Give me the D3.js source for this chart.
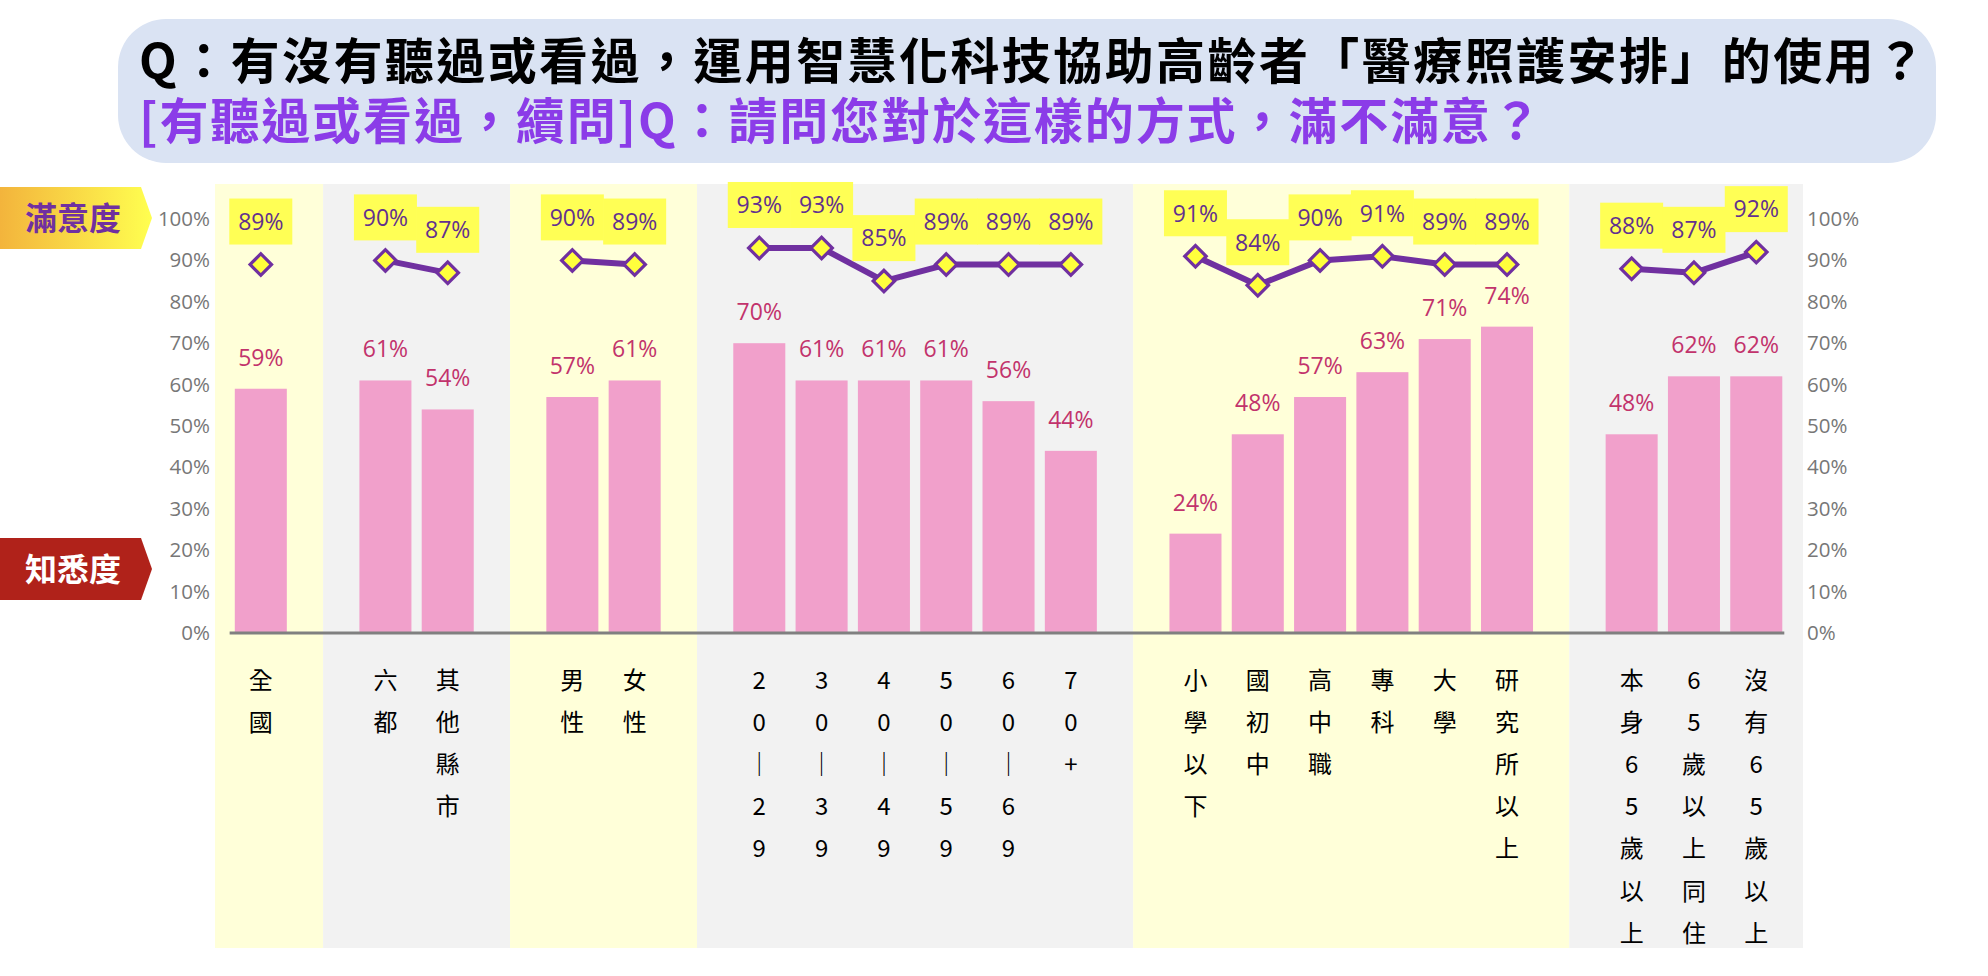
<!DOCTYPE html>
<html>
<head>
<meta charset="utf-8">
<script src="https://cdn.jsdelivr.net/npm/d3@7"></script>
<style>
body { margin: 0; background: #fff; }
svg text { font-family: "Noto Sans CJK TC", "Noto Sans", sans-serif; }
svg .num { font-family: "Open Sans", "Noto Sans", sans-serif; }
</style>
</head>
<body>
<div id="chart"></div>
<script>
// chart data
var titleLine1 = "Q：有沒有聽過或看過，運用智慧化科技協助高齡者「醫療照護安排」的使用？";
var titleLine2 = "[有聽過或看過，續問]Q：請問您對於這樣的方式，滿不滿意？";

var categories = ["全國", "六都", "其他縣市", "男性", "女性",
	"20-29", "30-39", "40-49", "50-59", "60-69", "70+",
	"小學以下", "國初中", "高中職", "專科", "大學", "研究所以上",
	"本身65歲以上", "65歲以上同住", "沒有65歲以上"];
var groupIndex = [0, 1, 1, 2, 2, 3, 3, 3, 3, 3, 3, 4, 4, 4, 4, 4, 4, 5, 5, 5];
var awareness = [59, 61, 54, 57, 61, 70, 61, 61, 61, 56, 44, 24, 48, 57, 63, 71, 74, 48, 62, 62];
var satisfaction = [89, 90, 87, 90, 89, 93, 93, 85, 89, 89, 89, 91, 84, 90, 91, 89, 89, 88, 87, 92];
var yTicks = [0, 10, 20, 30, 40, 50, 60, 70, 80, 90, 100];
var satLabel = "滿意度";
var awareLabel = "知悉度";

var W = 1988, H = 976;
var bandFills = ["#FFFFD9", "#F2F2F2"];

var svg = d3.select("#chart").append("svg")
	.attr("width", W)
	.attr("height", H);

// each group is separated by one empty slot
var slot = categories.map(function(c, i) { return i + groupIndex[i]; });
var nSlots = d3.max(slot) + 1;
var nGroups = d3.max(groupIndex) + 1;

var x = d3.scaleLinear()
	.domain([-0.735, nSlots - 1 + 0.75])
	.range([215, 1803]);
var step = x(1) - x(0);
var barW = step * 0.835;

var y = d3.scaleLinear()
	.domain([0, 100])
	.range([633, 219]);

var bandTop = 184, bandBottom = 948;

//Title bubble
svg.append("rect")
	.attr("x", 118).attr("y", 19)
	.attr("width", 1818).attr("height", 144)
	.attr("rx", 48)
	.attr("fill", "#DAE3F3");

var title = svg.append("text")
	.attr("font-size", 49).attr("font-weight", 700);
title.append("tspan")
	.attr("x", 139).attr("y", 79)
	.attr("fill", "#000")
	.attr("textLength", 1786).attr("lengthAdjust", "spacing")
	.text(titleLine1);
title.append("tspan")
	.attr("x", 139).attr("y", 139)
	.attr("fill", "#8B3CE8")
	.attr("textLength", 1402).attr("lengthAdjust", "spacing")
	.text(titleLine2);

//Group backgrounds
d3.range(nGroups).forEach(function(g)
{
	var s = slot.filter(function(d, i) { return groupIndex[i] === g; });
	var x0 = g === 0 ? x.range()[0] : x(d3.min(s) - 1);
	var x1 = g === nGroups - 1 ? x.range()[1] : x(d3.max(s) + 1);
	svg.append("rect")
		.attr("class", "band")
		.attr("x", x0).attr("y", bandTop)
		.attr("width", x1 - x0).attr("height", bandBottom - bandTop)
		.attr("fill", bandFills[g % 2]);
});

//Side labels
var defs = svg.append("defs");
var grad = defs.append("linearGradient").attr("id", "satGrad");
grad.append("stop").attr("offset", "0%").attr("stop-color", "#F3B43C");
grad.append("stop").attr("offset", "100%").attr("stop-color", "#FFFF50");

function tag(top, fill, textFill, label)
{
	var bottom = top + 62, mid = top + 31;
	svg.append("polygon")
		.attr("points", [[0, top], [141, top], [152, mid], [141, bottom], [0, bottom]].join(" "))
		.attr("fill", fill);
	svg.append("text")
		.attr("x", 73).attr("y", mid)
		.attr("dy", "0.36em")
		.attr("text-anchor", "middle")
		.attr("font-size", 32).attr("font-weight", 700)
		.attr("fill", textFill)
		.text(label);
}
tag(187, "url(#satGrad)", "#7030A0", satLabel);
tag(538, "#B0221A", "#FFFFFF", awareLabel);

//Y axes, labels only
function styleAxis(g)
{
	g.select(".domain").remove();
	g.selectAll("text")
		.attr("class", "num")
		.attr("font-size", 20.5)
		.attr("fill", "#777777");
}
svg.append("g")
	.attr("transform", "translate(210,0)")
	.call(d3.axisLeft(y).tickValues(yTicks).tickSize(0).tickPadding(0)
		.tickFormat(function(d) { return d + "%"; }))
	.call(styleAxis);
svg.append("g")
	.attr("transform", "translate(1807,0)")
	.call(d3.axisRight(y).tickValues(yTicks).tickSize(0).tickPadding(0)
		.tickFormat(function(d) { return d + "%"; }))
	.call(styleAxis);

//Bars
svg.selectAll(".bar")
	.data(awareness)
	.enter().append("rect")
	.attr("class", "bar")
	.attr("x", function(d, i) { return x(slot[i]) - barW / 2; })
	.attr("y", function(d) { return y(d); })
	.attr("width", barW)
	.attr("height", function(d) { return y(0) - y(d); })
	.attr("fill", "#F1A0CB");

svg.selectAll(".barLabel")
	.data(awareness)
	.enter().append("text")
	.attr("class", "barLabel num")
	.attr("x", function(d, i) { return x(slot[i]); })
	.attr("y", function(d) { return y(d) - 23; })
	.attr("text-anchor", "middle")
	.attr("font-size", 23)
	.attr("fill", "#C2336C")
	.text(function(d) { return d + "%"; });

//Baseline
svg.append("line")
	.attr("x1", x(-0.5)).attr("x2", x(nSlots - 1 + 0.45))
	.attr("y1", y(0)).attr("y2", y(0))
	.attr("stroke", "#808080")
	.attr("stroke-width", 3);

//Satisfaction line, one path per group
var pts = satisfaction.map(function(d, i) { return {s: slot[i], v: d, g: groupIndex[i]}; });
var line = d3.line()
	.x(function(d) { return x(d.s); })
	.y(function(d) { return y(d.v); });

svg.selectAll(".satLine")
	.data(d3.groups(pts, function(d) { return d.g; }))
	.enter().append("path")
	.attr("class", "satLine")
	.attr("d", function(d) { return line(d[1]); })
	.attr("fill", "none")
	.attr("stroke", "#7030A0")
	.attr("stroke-width", 6)
	.attr("stroke-linejoin", "round");

svg.selectAll(".marker")
	.data(pts)
	.enter().append("path")
	.attr("class", "marker")
	.attr("d", d3.symbol(d3.symbolSquare, 230))
	.attr("transform", function(d) { return "translate(" + x(d.s) + "," + y(d.v) + ") rotate(45)"; })
	.attr("fill", "#FFFF3C")
	.attr("stroke", "#7030A0")
	.attr("stroke-width", 3.2);

var labelOff = 43, boxW = 63, boxH = 46;
svg.selectAll(".satBox")
	.data(pts)
	.enter().append("rect")
	.attr("class", "satBox")
	.attr("x", function(d) { return x(d.s) - boxW / 2; })
	.attr("y", function(d) { return y(d.v) - labelOff - boxH / 2; })
	.attr("width", boxW).attr("height", boxH)
	.attr("fill", "#FFFF55");

svg.selectAll(".satLabel")
	.data(pts)
	.enter().append("text")
	.attr("class", "satLabel num")
	.attr("x", function(d) { return x(d.s); })
	.attr("y", function(d) { return y(d.v) - labelOff; })
	.attr("dy", "0.36em")
	.attr("text-anchor", "middle")
	.attr("font-size", 23)
	.attr("fill", "#62308F")
	.text(function(d) { return d.v + "%"; });

//Category labels, written vertically one character per row
var rowTop = 680, rowStep = 42.2;
categories.forEach(function(c, i)
{
	Array.from(c).forEach(function(ch, j)
	{
		svg.append("text")
			.attr("class", "catLabel")
			.attr("x", x(slot[i]))
			.attr("y", rowTop + j * rowStep)
			.attr("dy", "0.36em")
			.attr("text-anchor", "middle")
			.attr("font-size", 24)
			.attr("fill", "#000")
			.text(ch === "-" ? "｜" : ch);
	});
});
</script>
</body>
</html>
